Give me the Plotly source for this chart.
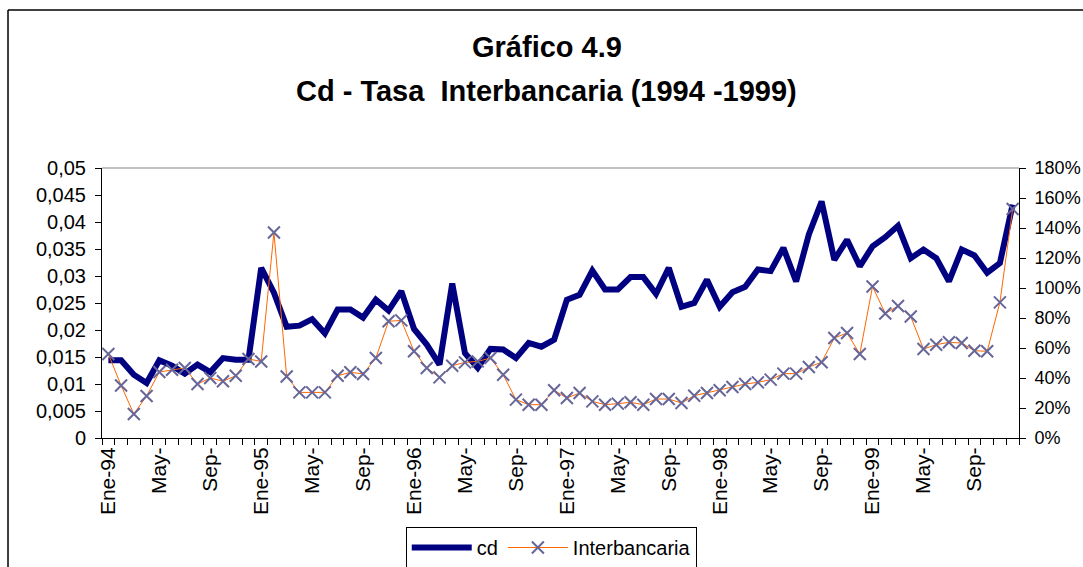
import plotly.graph_objects as go
import pandas as pd

# 72 monthly categories, Jan-1994 .. Dec-1999
months = [d.strftime("%Y-%m") for d in pd.date_range("1994-01-01", "1999-12-01", freq="MS")]

tick_labels = ["Ene-94", "May-", "Sep-", "Ene-95", "May-", "Sep-", "Ene-96", "May-", "Sep-",
               "Ene-97", "May-", "Sep-", "Ene-98", "May-", "Sep-", "Ene-99", "May-", "Sep-"]

cd = [0.0144, 0.0144, 0.0117, 0.0102, 0.0144, 0.0134, 0.0119, 0.0136, 0.0122, 0.0148, 0.0145, 0.0145,
      0.0315, 0.0269, 0.0206, 0.0208, 0.0220, 0.0194, 0.0238, 0.0238, 0.0223, 0.0256, 0.0236, 0.0272,
      0.0202, 0.0173, 0.0136, 0.0286, 0.0157, 0.0130, 0.0165, 0.0164, 0.0148, 0.0176, 0.0169, 0.0182,
      0.0256, 0.0265, 0.0310, 0.0275, 0.0275, 0.0298, 0.0298, 0.0267, 0.0315, 0.0243, 0.0250, 0.0293,
      0.0243, 0.0270, 0.0280, 0.0312, 0.0309, 0.0352, 0.0290, 0.0377, 0.0438, 0.0330, 0.0367, 0.0318,
      0.0355, 0.0372, 0.0393, 0.0333, 0.0349, 0.0333, 0.0290, 0.0349, 0.0338, 0.0306, 0.0324, 0.0432]

interbancaria = [56, 35, 16, 28, 44, 45.5, 46.7, 36, 40, 37.8, 41.5, 52.7,
                 51, 137, 41, 30.4, 30.4, 30.4, 41.5, 43.8, 42.7, 53.3, 77.8, 78.4,
                 57.8, 46.7, 40.4, 48.2, 50.4, 51.1, 53.3, 42.2, 25.6, 22.2, 22.2, 31.8,
                 26.7, 30.0, 24.4, 22.2, 22.9, 23.8, 22.2, 26.0, 26.0, 23.3, 28.2, 30.0,
                 31.8, 34.0, 36.0, 37.1, 38.9, 42.9, 42.9, 47.3, 50.5, 66.7, 70.0, 56.0,
                 101, 83, 88, 81, 59.3, 62.2, 63.8, 63.3, 58.2, 57.8, 90.4, 152.7]

left_vals = [0, 0.005, 0.01, 0.015, 0.02, 0.025, 0.03, 0.035, 0.04, 0.045, 0.05]
left_text = ["0", "0,005", "0,01", "0,015", "0,02", "0,025", "0,03", "0,035", "0,04", "0,045", "0,05"]
right_vals = [0, 20, 40, 60, 80, 100, 120, 140, 160, 180]
right_text = ["0%", "20%", "40%", "60%", "80%", "100%", "120%", "140%", "160%", "180%"]

title_line1 = "Gráfico 4.9"
title_line2 = "Cd - Tasa  Interbancaria (1994 -1999)"

# labels on every 4th month, blanks elsewhere (boundary ticks for every month)
label_map = dict(zip(months[::4], tick_labels))
x_ticktext = [label_map.get(m, "") for m in months]

FONT = "Liberation Sans, Arial, sans-serif"

fig = go.Figure()
fig.add_trace(go.Scatter(
    x=months, y=cd, name="cd", mode="lines",
    line=dict(color="#000080", width=6), yaxis="y"))
fig.add_trace(go.Scatter(
    x=months, y=interbancaria, name="Interbancaria", mode="lines+markers",
    line=dict(color="#FF6600", width=1),
    marker=dict(symbol="x-thin", size=12, line=dict(color="#666699", width=2)),
    yaxis="y2"))

fig.update_layout(
    width=1083, height=567,
    margin=dict(l=102, r=64, t=168, b=129, autoexpand=False),
    paper_bgcolor="white", plot_bgcolor="white",
    font=dict(family=FONT, color="black"),
    xaxis=dict(type="category", tickmode="array", tickvals=months, ticktext=x_ticktext,
               tickson="boundaries", ticks="outside", ticklen=6, tickcolor="black",
               tickangle=-90, tickfont=dict(size=21), automargin=False,
               showline=True, linecolor="black", linewidth=1,
               showgrid=False, zeroline=False, range=[-0.5, 71.5]),
    yaxis=dict(range=[0, 0.05], tickmode="array", tickvals=left_vals, ticktext=left_text,
               ticks="outside", ticklen=6, tickcolor="black", tickfont=dict(size=20),
               ticklabelstandoff=5, automargin=False,
               showline=True, linecolor="black", linewidth=1,
               showgrid=False, zeroline=False),
    yaxis2=dict(range=[0, 180], overlaying="y", side="right",
                tickmode="array", tickvals=right_vals, ticktext=right_text,
                ticks="outside", ticklen=6, tickcolor="black", tickfont=dict(size=18),
                ticklabelstandoff=5, automargin=False,
                showline=True, linecolor="black", linewidth=1,
                showgrid=False, zeroline=False),
    legend=dict(orientation="h", xref="container", yref="container",
                x=0.509, xanchor="center", y=1 - 527 / 567, yanchor="top",
                bordercolor="black", borderwidth=1, bgcolor="white",
                font=dict(size=20, family=FONT), itemwidth=60),
    showlegend=True,
    annotations=[
        dict(text="<b>%s</b>" % title_line1, xref="paper", yref="paper",
             x=0.485, y=1.448, xanchor="center", yanchor="middle", showarrow=False,
             font=dict(size=29, family=FONT, color="black")),
        dict(text="<b>%s</b>" % title_line2, xref="paper", yref="paper",
             x=0.485, y=1.285, xanchor="center", yanchor="middle", showarrow=False,
             font=dict(size=29, family=FONT, color="black")),
    ],
    shapes=[
        # plot-area top border (grey)
        dict(type="line", xref="paper", yref="paper", x0=0, x1=1, y0=1, y1=1,
             line=dict(color="#C0C0C0", width=2)),
        # outer chart frame (left and top edges)
        dict(type="line", xref="paper", yref="paper", x0=-0.1025, x1=-0.1025, y0=-0.6, y1=1.585,
             line=dict(color="black", width=1.5)),
        dict(type="line", xref="paper", yref="paper", x0=-0.1025, x1=1.2, y0=1.585, y1=1.585,
             line=dict(color="black", width=1.5)),
    ],
)

fig.write_html("out.html", config={"displayModeBar": False},
               post_script="document.body.style.margin='0px';")
